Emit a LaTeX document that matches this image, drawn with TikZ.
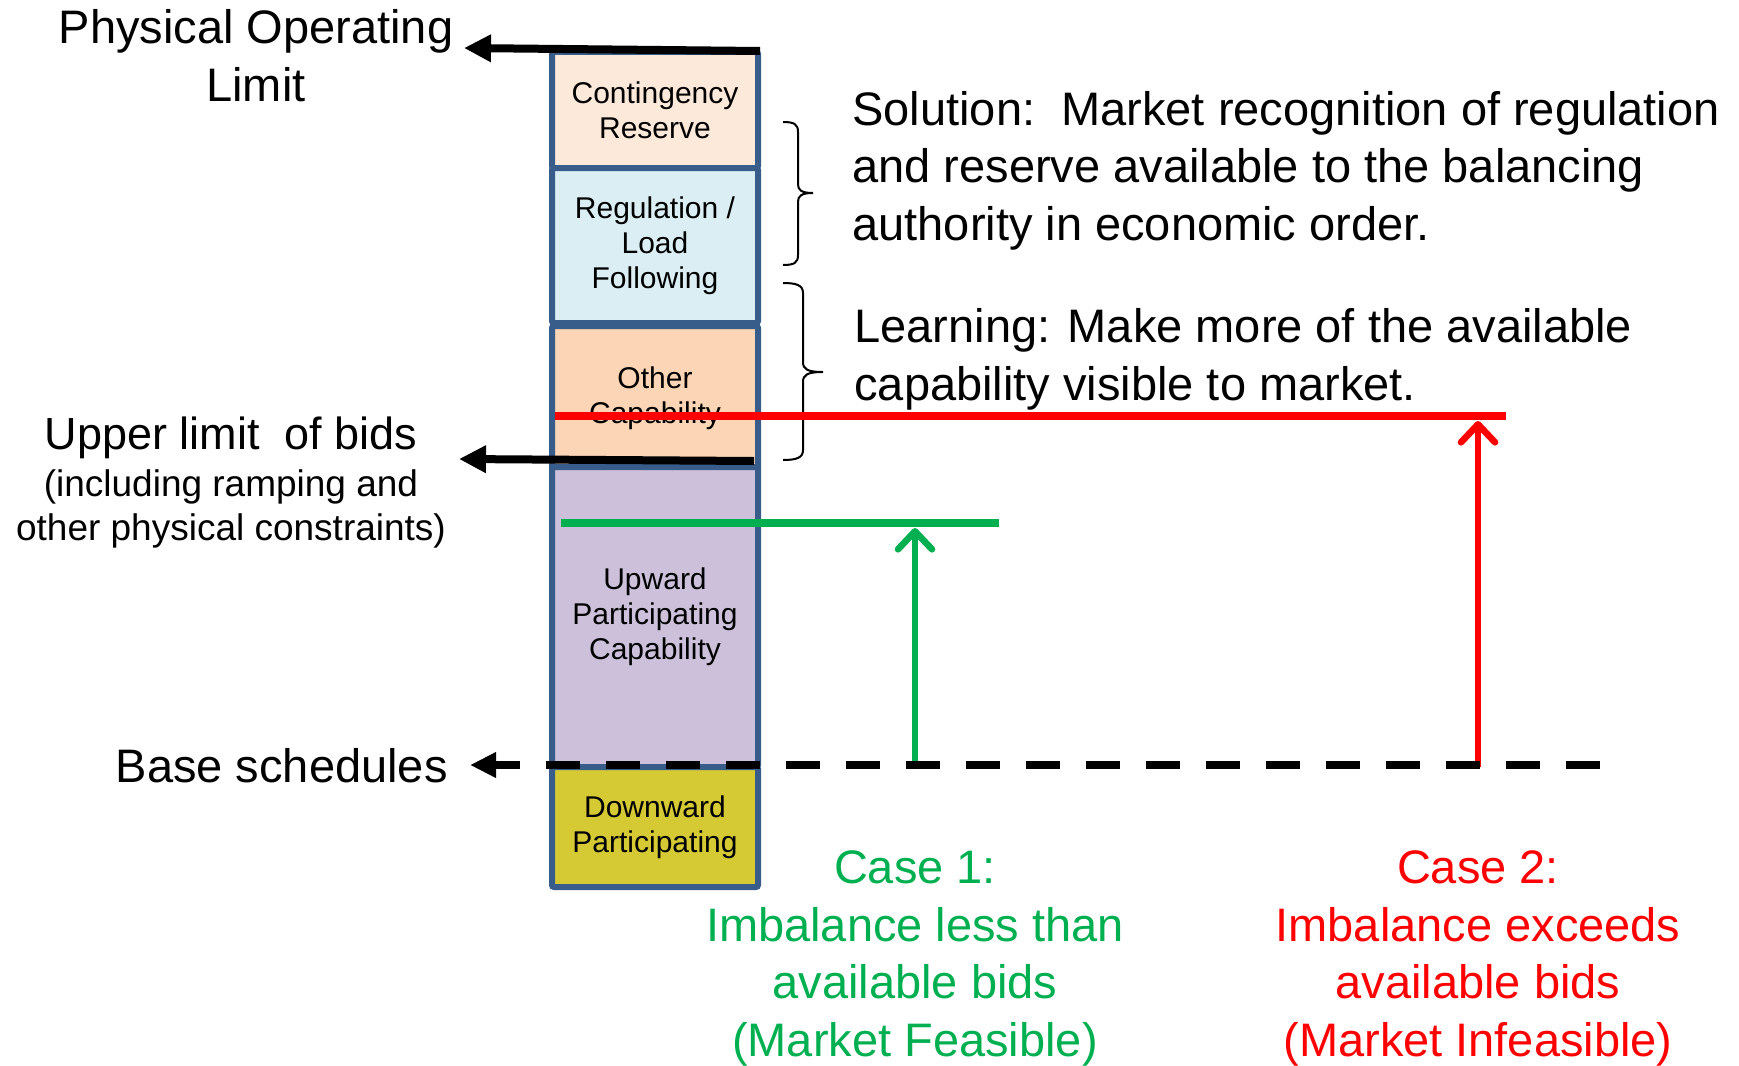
\documentclass[tikz,border=0pt]{standalone}
\usepackage{fontspec}
\setmainfont{Liberation Sans}
\usetikzlibrary{arrows.meta}
\definecolor{crfill}{HTML}{FDE9D9}
\definecolor{regfill}{HTML}{DAEEF3}
\definecolor{othfill}{HTML}{FBD5B5}
\definecolor{upfill}{HTML}{CCC0DA}
\definecolor{dnfill}{HTML}{D5C934}
\definecolor{colborder}{HTML}{385D8A}
\definecolor{casegreen}{HTML}{00B050}
\definecolor{casered}{HTML}{FF0000}
\begin{document}
\begin{tikzpicture}[x=0.5pt,y=-0.5pt,
  band/.style={draw=colborder, line width=3pt, rounded corners=1pt, inner sep=0pt,
    minimum width=103pt, align=center, font=\fontsize{15}{17.5}\selectfont},
  bigtext/.style={font=\fontsize{23.5}{28.7}\selectfont, inner sep=0pt},
  blackarrow/.style={line width=4pt, -{Triangle[length=13.5pt,width=13pt]}},
  baseline/.style={line width=4pt, dash pattern=on 17pt off 13pt, -{Triangle[length=13pt,width=12pt]}},
  caseline/.style={line width=3.75pt},
  casearrow/.style={line width=3.3pt, -{Straight Barb[length=9pt, width=17pt, round]}},
  bracepath/.style={line width=1pt}
]
\useasboundingbox (0,0) rectangle (1739,1065);

% column of bands
\node[band, fill=crfill, minimum height=58pt] (cr) at (655,110) {Contingency\\Reserve};
\node[band, fill=regfill, minimum height=77.5pt] (reg) at (655,245.5) {Regulation /\\Load\\Following};
\node[band, fill=othfill, minimum height=72pt] (oth) at (655,398) {Other\\Capability};
\node[band, fill=upfill, minimum height=150pt] (up) at (655,617) {Upward\\Participating\\Capability};
\node[band, fill=dnfill, minimum height=60pt] (dn) at (655,827) {Downward\\Participating};

% left labels (base anchor = baseline of last line)
\node[bigtext, font=\fontsize{23.5}{29}\selectfont, align=center, anchor=base] (pol) at (256,102) {Physical Operating\\Limit};
\node[inner sep=0pt, font=\fontsize{22.5}{26}\selectfont, anchor=base] (ulb) at (231,449) {Upper limit\ \ of bids};
\node[inner sep=0pt, font=\fontsize{18.5}{22}\selectfont, align=center, anchor=base] (ulbsub) at (231,540) {(including ramping and\\other physical constraints)};
\node[inner sep=0pt, font=\fontsize{23.5}{27}\selectfont, anchor=base east] (bs) at (448,782) {Base schedules};

% right texts
\node[bigtext, align=left, anchor=base west] (sol) at (852,240) {Solution:\ \ Market recognition of regulation\\and reserve available to the balancing\\authority in economic order.};
\node[bigtext, align=left, anchor=base west] (learn) at (854,400) {Learning: Make more of the available\\capability visible to market.};
\node[bigtext, align=center, anchor=base, text=casegreen] (case1) at (915,1056) {Case 1:\\Imbalance less than\\available bids\\(Market Feasible)};
\node[bigtext, align=center, anchor=base, text=casered] (case2) at (1478,1056) {Case 2:\\Imbalance exceeds\\available bids\\(Market Infeasible)};

% braces
\draw[bracepath] (783,122) .. controls (794,122) and (798,124) .. (798,132) -- (798,184)
  .. controls (798,190) and (801,193) .. (813,193) .. controls (801,193) and (798,196) .. (798,202)
  -- (798,255) .. controls (798,263) and (794,265) .. (783,265);
\draw[bracepath] (783,283) .. controls (796,283) and (803,285) .. (803,293) -- (803,362)
  .. controls (803,369) and (807,372) .. (823,372) .. controls (807,372) and (803,375) .. (803,382)
  -- (803,450) .. controls (803,458) and (796,460) .. (783,460);

% coordinates
\coordinate (polR) at (760,51);
\coordinate (polTip) at (464,48);
\coordinate (ulbR) at (754,461);
\coordinate (ulbTip) at (459,459);
\coordinate (bsR) at (1600,765);
\coordinate (bsTip) at (470,765);
\coordinate (gL) at (561,523);
\coordinate (gR) at (999,523);
\coordinate (rL) at (555,416);
\coordinate (rR) at (1506,416);
\coordinate (gBot) at (915,767);
\coordinate (gTop) at (915,528);
\coordinate (rBot) at (1478,767);
\coordinate (rTop) at (1478,421);

% case lines
\draw[caseline, casered] (rL) -- (rR);
\draw[caseline, casegreen] (gL) -- (gR);
\draw[casearrow, casegreen] (gBot) -- (gTop);
\draw[casearrow, casered] (rBot) -- (rTop);

% black arrows
\draw[blackarrow] (polR) -- (polTip);
\draw[blackarrow] (ulbR) -- (ulbTip);
\draw[baseline] (bsR) -- (bsTip);
\end{tikzpicture}
\end{document}
